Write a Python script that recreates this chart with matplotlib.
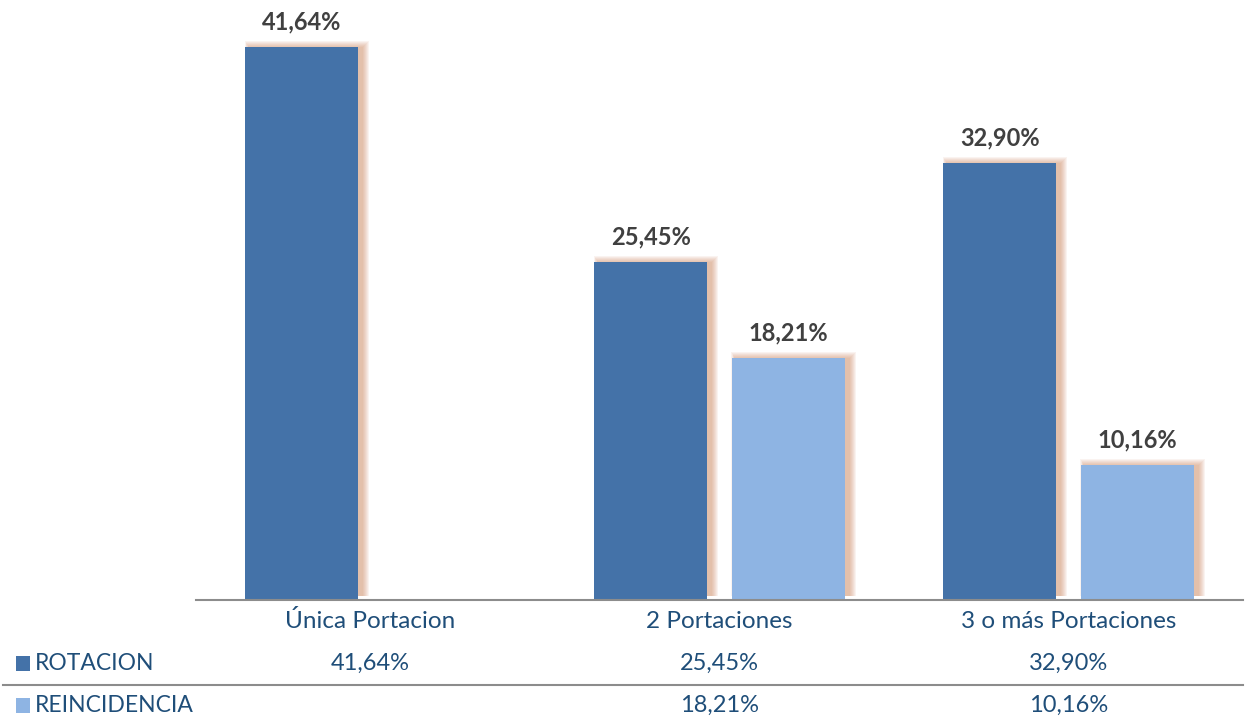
import matplotlib
matplotlib.use("Agg")
import matplotlib.pyplot as plt
import matplotlib.transforms as mtransforms
from matplotlib.patches import Rectangle

categories = ["Única Portacion", "2 Portaciones", "3 o más Portaciones"]
series_names = ["ROTACION", "REINCIDENCIA"]
rotacion = [41.64, 25.45, 32.90]
reincidencia = [None, 18.21, 10.16]

COLORS = ["#4472A8", "#8EB4E3"]
TEXT_BLUE = "#1F4E79"
GLOW = "#C9845A"

plt.rcParams["font.family"] = ["Lato", "DejaVu Sans"]

W, H = 1247, 721
fig = plt.figure(figsize=(W / 100, H / 100), dpi=100)
ax = fig.add_axes([196 / W, 1 - 600 / H, (1243 - 196) / W, 600 / H])

ax.set_xlim(-0.5, 2.5)
ax.set_ylim(0, 45.2)

width = 0.324
gap = 0.069
offsets = [-(width / 2 + gap / 2), width / 2 + gap / 2]

# pixel -> data scale for the soft glow
px_x = 3.0 / (1243 - 196)
px_y = 45.2 / 600

for values, off, color in zip([rotacion, reincidencia], offsets, COLORS):
    for i, v in enumerate(values):
        if v is None:
            continue
        x = i + off
        # blurred glow, shifted to the right, behind the bar
        for k in range(7, 0, -1):
            left = x - width / 2 + (4 - 0.6 * k) * px_x
            ax.add_patch(Rectangle((left, 4 * px_y),
                                   width + (1.6 * k) * px_x, v + (k - 1) * px_y - 4 * px_y,
                                   facecolor=GLOW, edgecolor="none",
                                   alpha=0.09, zorder=1, clip_on=False))
        ax.bar(x, v, width=width, color=color, zorder=2)
        ax.annotate(f"{v:.2f}%".replace(".", ","), (x, v),
                    xytext=(0, 10), textcoords="offset points",
                    ha="center", va="bottom", fontsize=17, fontweight="bold",
                    color="#404040")

for side in ["top", "right", "left"]:
    ax.spines[side].set_visible(False)
ax.spines["bottom"].set_color("#8C8C8C")
ax.spines["bottom"].set_linewidth(1.5)
ax.spines["bottom"].set_zorder(3)
ax.set_yticks([])
ax.set_xticks([])

trans = mtransforms.blended_transform_factory(ax.transData, fig.transFigure)
for i, cat in enumerate(categories):
    ax.text(i, 1 - 621 / H, cat, transform=trans, ha="center", va="center",
            fontsize=17.5, color=TEXT_BLUE)

# data table rows
row_y = [1 - 663 / H, 1 - 705 / H]
for name, values, color, y in zip(series_names, [rotacion, reincidencia], COLORS, row_y):
    fig.add_artist(Rectangle((16 / W, y - 8 / H), 14 / W, 15 / H,
                             facecolor=color, edgecolor="none",
                             transform=fig.transFigure))
    fig.text(35 / W, y, name, ha="left", va="center", fontsize=16.5, color=TEXT_BLUE)
    for i, v in enumerate(values):
        if v is None:
            continue
        ax.text(i, y, f"{v:.2f}%".replace(".", ","), transform=trans,
                ha="center", va="center", fontsize=17, color=TEXT_BLUE)

fig.add_artist(plt.Line2D([3 / W, 1243 / W], [1 - 685 / H, 1 - 685 / H],
                          color="#8C8C8C", linewidth=1.5,
                          transform=fig.transFigure))

fig.savefig("out.png", dpi=100)
